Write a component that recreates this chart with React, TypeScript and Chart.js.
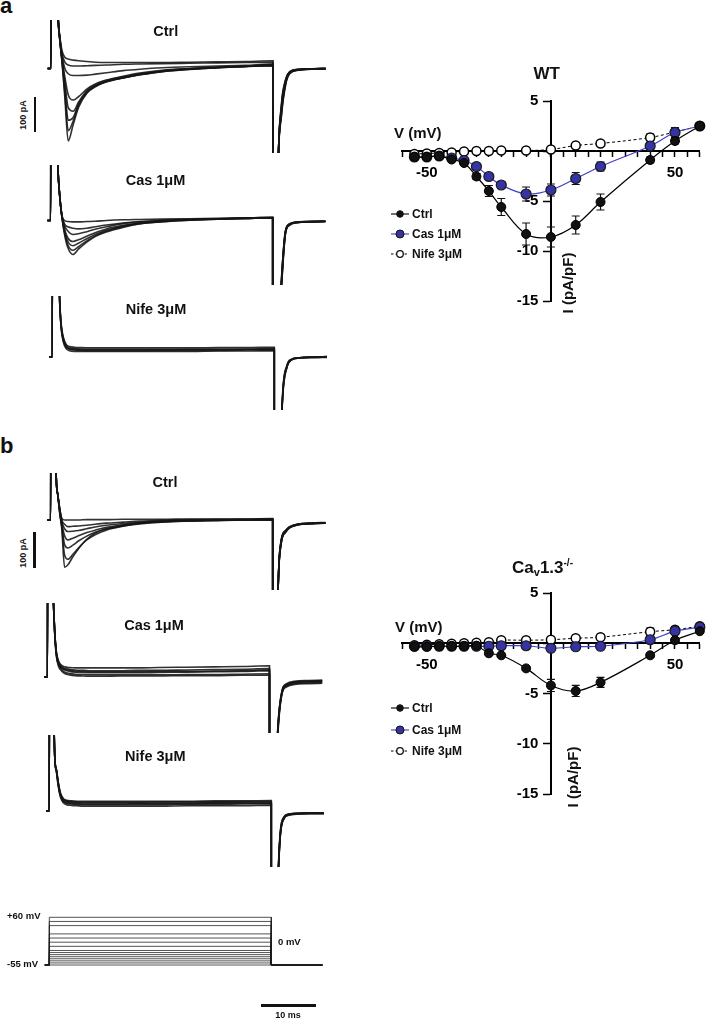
import React, { useEffect, useRef } from "react";
import { Chart, registerables } from "chart.js";
Chart.register(...registerables);

// ---------------- IV curves ----------------
const V_STEPS = [-55, -50, -45, -40, -35, -30, -25, -20, -10, 0, 10, 20, 40, 50, 60];

const WT_CTRL = [-0.6, -0.6, -0.5, -0.85, -1.2, -2.55, -4.0, -5.6, -8.3, -8.6, -7.4, -5.1, -0.9, 1.0, 2.5];
const WT_CTRL_SEM = [0, 0, 0, 0.15, 0.2, 0.3, 0.55, 0.85, 1.1, 1.0, 0.9, 0.8, 0.3, 0.3, 0.2];
const WT_CAS = [-0.6, -0.6, -0.5, -0.7, -0.95, -1.55, -2.55, -3.4, -4.3, -3.9, -2.75, -1.55, 0.5, 1.85, 2.5];
const WT_CAS_SEM = [0, 0, 0, 0, 0.15, 0.2, 0.3, 0.35, 0.7, 0.6, 0.6, 0.45, 0.3, 0.5, 0.3];
const WT_NIFE = [-0.3, -0.25, -0.2, -0.15, -0.05, 0, 0, 0.05, 0.05, 0.15, 0.55, 0.75, 1.35, 1.9, 2.5];
const WT_NIFE_SEM = [0, 0, 0, 0, 0, 0, 0, 0, 0, 0, 0, 0.2, 0.35, 0.4, 0.3];

const KO_CTRL = [-0.35, -0.35, -0.3, -0.3, -0.3, -0.25, -1.0, -1.2, -2.5, -4.2, -4.75, -3.9, -1.2, 0.3, 1.2];
const KO_CTRL_SEM = [0, 0, 0, 0, 0, 0, 0, 0, 0.2, 0.6, 0.55, 0.5, 0.2, 0.2, 0.2];
const KO_CAS = [-0.3, -0.3, -0.3, -0.3, -0.3, -0.3, -0.3, -0.25, -0.25, -0.5, -0.35, -0.3, 0.35, 1.2, 1.6];
const KO_CAS_SEM = [0, 0, 0, 0, 0, 0, 0, 0, 0, 0, 0, 0, 0.2, 0.3, 0.2];
const KO_NIFE = [-0.2, -0.15, -0.1, -0.05, 0, 0.05, 0.1, 0.3, 0.3, 0.35, 0.5, 0.6, 1.15, 1.35, 1.7];
const KO_NIFE_SEM = [0, 0, 0, 0, 0, 0, 0, 0, 0, 0, 0, 0, 0.35, 0.3, 0.2];

const X_TICK_LABELS = [-50, 50];
const Y_TICK_LABELS = [5, -5, -10, -15];

// ---------------- current traces (ms, pA) ----------------
const TIME = [-0.6, 0, 0.05, 1.0, 1.3, 1.6, 2.0, 2.5, 3.1, 4, 5, 6.5, 8, 10, 13, 16, 20, 25, 30, 35, 40, 40.02, 40.9, 41.5, 42.3, 43, 44.5, 47, 49.5];

const A_CTRL = [
  [0, 0, 900, 300, 140, 90, 50, 32, 27, 24, 22, 20, 18, 17, 17, 17, 17, 18, 19, 20, 22, -1500, -300, -105, -30, -9, -2, -1, 0],
  [0, 0, 900, 300, 140, 88, 42, 18, 10, 7, 7, 8, 9, 10, 12, 13, 14, 15, 16, 17, 18, -1500, -300, -110, -32, -10, -3, -1, 0],
  [0, 0, 900, 300, 140, 86, 35, 0, -15, -20, -20, -19, -16, -12, -6, -2, 2, 5, 7, 9, 13, -1500, -300, -115, -34, -10, -3, -2, -1],
  [0, 0, 900, 300, 140, 84, 28, -25, -75, -90, -80, -58, -44, -33, -22, -13, -5, 0, 4, 7, 11, -1500, -300, -120, -36, -11, -3, -1, 0],
  [0, 0, 900, 300, 140, 82, 25, -40, -112, -122, -95, -62, -46, -34, -24, -15, -7, -1, 3, 6, 9, -1500, -300, -125, -38, -12, -4, -1, 0],
  [0, 0, 900, 300, 140, 80, 22, -55, -148, -140, -100, -66, -50, -38, -27, -18, -9, -3, 2, 5, 8, -1500, -300, -130, -40, -13, -4, -2, -1],
  [0, 0, 900, 300, 140, 80, 18, -70, -178, -150, -105, -68, -50, -37, -26, -17, -8, -1, 3, 7, 10, -1500, -300, -135, -42, -14, -5, -1, 0],
  [0, 0, 900, 300, 140, 80, 15, -85, -207, -160, -110, -70, -52, -38, -27, -18, -9, -2, 2, 6, 9, -1500, -300, -140, -45, -15, -5, -2, 0],
];
const A_CAS = [
  [0, 0, 900, 320, 150, 75, 16, 0, -3, -4, -4, -3, -2, 0, 2, 3, 4, 5, 6, 7, 8, -1500, -400, -190, -30, -10, -4, -3, -2],
  [0, 0, 900, 320, 150, 75, 16, -10, -18, -22, -24, -22, -18, -13, -7, -3, 0, 3, 5, 7, 9, -1500, -400, -190, -30, -10, -4, -3, -3],
  [0, 0, 900, 320, 150, 75, 16, -15, -30, -40, -38, -32, -25, -18, -9, -4, 0, 3, 5, 6, 8, -1500, -400, -195, -32, -11, -4, -3, -3],
  [0, 0, 900, 320, 150, 75, 15, -25, -50, -60, -55, -45, -35, -24, -14, -7, -1, 3, 5, 7, 9, -1500, -400, -200, -33, -12, -5, -3, -2],
  [0, 0, 900, 320, 150, 75, 14, -30, -60, -72, -65, -52, -40, -28, -16, -8, -2, 2, 4, 6, 8, -1500, -400, -205, -35, -12, -5, -4, -3],
  [0, 0, 900, 320, 150, 75, 13, -35, -70, -85, -75, -58, -44, -31, -18, -9, -3, 1, 4, 6, 7, -1500, -400, -210, -36, -13, -6, -4, -3],
  [0, 0, 900, 320, 150, 75, 12, -40, -78, -97, -82, -62, -46, -33, -20, -10, -4, 1, 4, 6, 8, -1500, -400, -215, -38, -14, -6, -3, -2],
];
const A_NIFE = [
  [0, 0, 900, 400, 175, 90, 52, 32, 26, 24, 23, 22, 22, 22, 22, 22, 22, 22, 23, 23, 24, -1500, -400, -110, -25, -8, -2, 0, 1],
  [0, 0, 900, 400, 172, 86, 47, 28, 22, 20, 19, 18, 18, 18, 18, 18, 19, 19, 19, 20, 21, -1500, -400, -115, -27, -9, -3, -1, 0],
  [0, 0, 900, 400, 178, 95, 56, 36, 30, 28, 27, 26, 26, 26, 26, 26, 26, 26, 27, 27, 28, -1500, -400, -105, -23, -7, -2, 0, 1],
  [0, 0, 900, 400, 174, 88, 49, 30, 24, 22, 21, 20, 20, 20, 20, 20, 20, 21, 21, 22, 22, -1500, -400, -120, -29, -10, -3, -1, -1],
  [0, 0, 900, 400, 170, 82, 42, 24, 18, 16, 16, 16, 16, 16, 16, 16, 16, 16, 17, 17, 18, -1500, -400, -112, -26, -8, -2, -1, 0],
];
const B_CTRL = [
  [0, 0, 900, 120, 70, 35, 5, 0, 0, 0, 0, 1, 1, 1, 2, 2, 2, 3, 3, 3, 4, -1500, -250, -60, -30, -20, -12, -9, -7],
  [0, 0, 900, 120, 70, 35, 0, -12, -19, -18, -17, -15, -12, -9, -6, -3, -1, 1, 2, 2, 3, -1500, -250, -62, -31, -20, -12, -9, -8],
  [0, 0, 900, 120, 70, 33, -5, -25, -33, -32, -30, -25, -20, -15, -10, -6, -3, -1, 0, 1, 2, -1500, -250, -64, -32, -21, -13, -10, -8],
  [0, 0, 900, 120, 70, 30, -10, -45, -57, -52, -45, -36, -29, -21, -14, -8, -4, -2, 0, 1, 1, -1500, -250, -66, -33, -21, -13, -10, -9],
  [0, 0, 900, 120, 70, 28, -15, -70, -80, -72, -60, -46, -35, -25, -16, -9, -5, -2, -1, 0, 1, -1500, -250, -68, -34, -22, -13, -10, -8],
  [0, 0, 900, 120, 70, 25, -20, -100, -112, -98, -80, -57, -42, -29, -18, -10, -5, -3, -1, 0, 0, -1500, -250, -70, -35, -22, -14, -10, -9],
  [0, 0, 900, 120, 70, 22, -25, -135, -128, -105, -82, -55, -38, -26, -17, -11, -6, -3, -1, 0, 1, -1500, -250, -72, -36, -23, -14, -11, -9],
];
const B_CAS = [
  [0, 0, 900, 250, 130, 70, 42, 30, 25, 22, 20, 19, 18, 18, 18, 19, 19, 20, 21, 22, 24, -1500, -400, -150, -38, -22, -14, -12, -11],
  [0, 0, 900, 250, 128, 66, 38, 26, 20, 16, 14, 13, 12, 12, 12, 12, 13, 14, 15, 16, 18, -1500, -400, -155, -40, -24, -16, -14, -13],
  [0, 0, 900, 250, 130, 68, 40, 28, 22, 19, 17, 16, 15, 15, 15, 15, 16, 16, 17, 18, 20, -1500, -400, -150, -39, -23, -15, -13, -12],
  [0, 0, 900, 250, 126, 62, 34, 22, 14, 10, 8, 7, 6, 6, 6, 6, 6, 7, 7, 8, 9, -1500, -400, -160, -43, -27, -19, -17, -16],
  [0, 0, 900, 250, 132, 72, 46, 34, 29, 27, 26, 26, 26, 26, 26, 26, 27, 28, 29, 30, 32, -1500, -400, -145, -36, -20, -12, -10, -9],
  [0, 0, 900, 250, 124, 60, 30, 18, 10, 6, 4, 3, 2, 2, 3, 3, 3, 4, 4, 5, 5, -1500, -400, -165, -45, -29, -21, -19, -18],
];
const B_NIFE = [
  [0, 0, 900, 150, 115, 80, 48, 32, 27, 25, 24, 23, 23, 23, 23, 23, 23, 23, 24, 24, 25, -1500, -400, -90, -18, -10, -7, -6, -6],
  [0, 0, 900, 150, 112, 76, 44, 28, 22, 20, 19, 18, 18, 18, 18, 18, 18, 19, 19, 20, 20, -1500, -400, -95, -20, -11, -8, -7, -7],
  [0, 0, 900, 150, 118, 84, 52, 36, 31, 29, 28, 28, 28, 28, 28, 28, 28, 28, 29, 29, 30, -1500, -400, -85, -16, -9, -6, -5, -5],
  [0, 0, 900, 150, 110, 72, 40, 24, 18, 16, 15, 14, 14, 14, 14, 14, 14, 15, 15, 15, 16, -1500, -400, -100, -22, -13, -9, -8, -8],
  [0, 0, 900, 150, 116, 82, 50, 34, 29, 27, 26, 25, 25, 25, 25, 25, 26, 26, 26, 27, 27, -1500, -400, -92, -19, -10, -7, -6, -5],
  [0, 0, 900, 150, 114, 78, 46, 30, 24, 22, 21, 20, 20, 20, 20, 21, 21, 21, 22, 22, 22, -1500, -400, -97, -21, -12, -8, -7, -7],
];

// voltage protocol
const HOLD_MV = -55;
const STEP_START = 0;
const STEP_END = 40;
const PROTO_T_START = -0.8;
const PROTO_T_END = 49.2;

// ---------------- layout helpers ----------------
const PX_MS = 5.55;
const PX_PA = 0.35;
const FONT = "'Liberation Sans', Arial, Helvetica, sans-serif";
const CAS_BLUE = "#3434a4";
const CAS_LINE = "#4141c8";

type Cfg = () => any;

function ChartCanvas(props: { left: number; top: number; width: number; height: number; make: Cfg }) {
  const ref = useRef<HTMLCanvasElement | null>(null);
  useEffect(() => {
    const chart = new Chart(ref.current as HTMLCanvasElement, props.make());
    return () => chart.destroy();
  }, []);
  return (
    <canvas
      ref={ref}
      width={props.width}
      height={props.height}
      style={{ position: "absolute", left: props.left, top: props.top, width: props.width, height: props.height }}
    />
  );
}

function baseOptions() {
  return {
    animation: false,
    responsive: false,
    events: [],
    plugins: { legend: { display: false }, tooltip: { enabled: false }, title: { display: false } },
  };
}

function tracePanel(traces: number[][], x0: number, top: number, bottom: number, base: number) {
  const left = Math.round(x0 - 4);
  const width = 282;
  const xMin = (left - x0) / PX_MS;
  const xMax = xMin + width / PX_MS;
  const yMin = -(bottom - base) / PX_PA;
  const yMax = (base - top) / PX_PA;
  const make = () => ({
    type: "line",
    data: {
      datasets: traces.map((tr) => ({
        data: TIME.map((t, i) => ({ x: t, y: tr[i] })),
        borderColor: "rgba(22,22,22,0.88)",
        borderWidth: 1.6,
        pointRadius: 0,
        cubicInterpolationMode: "monotone",
        fill: false,
      })),
    },
    options: {
      ...baseOptions(),
      layout: { padding: 0 },
      scales: {
        x: { type: "linear", display: false, min: xMin, max: xMax },
        y: { type: "linear", display: false, min: yMin, max: yMax },
      },
    },
  });
  return { left, top, width, height: bottom - top, make };
}

const errorBarPlugin = {
  id: "errorBars",
  beforeDatasetsDraw(chart: any) {
    const ctx = chart.ctx;
    const xs = chart.scales.x;
    const ys = chart.scales.y;
    chart.data.datasets.forEach((ds: any) => {
      if (!ds.errs) return;
      ctx.save();
      ctx.strokeStyle = "#111";
      ctx.lineWidth = 1.2;
      ds.data.forEach((p: any, i: number) => {
        const e = ds.errs[i];
        if (!e) return;
        const px = xs.getPixelForValue(p.x);
        const y1 = ys.getPixelForValue(p.y + e);
        const y2 = ys.getPixelForValue(p.y - e);
        ctx.beginPath();
        ctx.moveTo(px, y1);
        ctx.lineTo(px, y2);
        ctx.moveTo(px - 4, y1);
        ctx.lineTo(px + 4, y1);
        ctx.moveTo(px - 4, y2);
        ctx.lineTo(px + 4, y2);
        ctx.stroke();
      });
      ctx.restore();
    });
  },
};

function zeroPad(s: any) {
  s.paddingLeft = 0;
  s.paddingRight = 0;
  s.paddingTop = 0;
  s.paddingBottom = 0;
}

function ivMake(ctrl: number[], ctrlSem: number[], cas: number[], casSem: number[], nife: number[], nifeSem: number[], padTop: number) {
  return () => ({
    type: "line",
    data: {
      datasets: [
        {
          label: "Ctrl",
          data: V_STEPS.map((v, i) => ({ x: v, y: ctrl[i] })),
          errs: ctrlSem,
          borderColor: "#000",
          borderWidth: 1.2,
          pointRadius: 4.5,
          pointBackgroundColor: "#111",
          pointBorderColor: "#000",
          pointBorderWidth: 1,
          tension: 0.35,
          clip: false,
        },
        {
          label: "Cas 1μM",
          data: V_STEPS.map((v, i) => ({ x: v, y: cas[i] })),
          errs: casSem,
          borderColor: CAS_LINE,
          borderWidth: 1.2,
          pointRadius: 5,
          pointBackgroundColor: CAS_BLUE,
          pointBorderColor: "#1a1a1a",
          pointBorderWidth: 1.2,
          tension: 0.35,
          clip: false,
        },
        {
          label: "Nife 3μM",
          data: V_STEPS.map((v, i) => ({ x: v, y: nife[i] })),
          errs: nifeSem,
          borderColor: "#000",
          borderWidth: 1,
          borderDash: [3, 2.5],
          pointRadius: 4.5,
          pointBackgroundColor: "#fff",
          pointBorderColor: "#000",
          pointBorderWidth: 1.5,
          tension: 0.35,
          clip: false,
        },
      ],
    },
    options: {
      ...baseOptions(),
      layout: { padding: { left: 42, right: 4, top: padTop, bottom: 29 } },
      scales: {
        x: {
          type: "linear",
          min: -60,
          max: 60,
          position: { y: 0 },
          afterFit: zeroPad,
          ticks: {
            stepSize: 5,
            autoSkip: false,
            maxRotation: 0,
            padding: 8,
            color: "#000",
            font: { family: FONT, size: 15, weight: "bold" },
            callback: (v: number) => (X_TICK_LABELS.includes(v) ? String(v) : ""),
          },
          grid: { drawOnChartArea: false, drawTicks: true, tickLength: 5, tickColor: "#000", tickWidth: 1.5 },
          border: { display: true, color: "#000", width: 2 },
        },
        y: {
          type: "linear",
          min: -15,
          max: 5,
          position: { x: 0 },
          afterFit: zeroPad,
          ticks: {
            stepSize: 5,
            autoSkip: false,
            padding: 4,
            color: "#000",
            font: { family: FONT, size: 15, weight: "bold" },
            // trailing spaces keep the right-aligned label clear of the tick marks
            callback: (v: number) => (Y_TICK_LABELS.includes(v) ? String(v) + "   " : ""),
          },
          grid: { drawOnChartArea: false, drawTicks: true, tickLength: 7, tickColor: "#000", tickWidth: 1.5 },
          border: { display: true, color: "#000", width: 2 },
        },
      },
    },
    plugins: [errorBarPlugin],
  });
}

function protoMake(x0: number, left: number, width: number, top: number, height: number) {
  const pxMv = (965 - 917.3) / 115;
  const xMin = (left - x0) / PX_MS;
  const xMax = xMin + width / PX_MS;
  const yMin = HOLD_MV - (top + height - 965) / pxMv;
  const yMax = 60 + (917.3 - top) / pxMv;
  return () => ({
    type: "line",
    data: {
      datasets: V_STEPS.map((v) => ({
        data: [
          { x: PROTO_T_START, y: HOLD_MV },
          { x: STEP_START, y: HOLD_MV },
          { x: STEP_START, y: v },
          { x: STEP_END, y: v },
          { x: STEP_END, y: HOLD_MV },
          { x: PROTO_T_END, y: HOLD_MV },
        ],
        borderColor: "rgba(30,30,30,0.85)",
        borderWidth: 0.9,
        pointRadius: 0,
        tension: 0,
        fill: false,
      })),
    },
    options: {
      ...baseOptions(),
      layout: { padding: 0 },
      scales: {
        x: { type: "linear", display: false, min: xMin, max: xMax },
        y: { type: "linear", display: false, min: yMin, max: yMax },
      },
    },
  });
}

function Txt(props: { x: number; y: number; size: number; children: any; anchor?: "c" | "l"; bold?: boolean; rotate?: boolean }) {
  const tr = props.anchor === "l" ? "translate(0,-50%)" : "translate(-50%,-50%)";
  return (
    <div
      style={{
        position: "absolute",
        left: props.x,
        top: props.y,
        transform: tr + (props.rotate ? " rotate(-90deg)" : ""),
        fontFamily: FONT,
        fontWeight: props.bold === false ? "normal" : "bold",
        fontSize: props.size,
        lineHeight: 1,
        whiteSpace: "nowrap",
        color: "#111",
      }}
    >
      {props.children}
    </div>
  );
}

function Legend(props: { y0: number; gap: number }) {
  const items = [
    { label: "Ctrl", kind: 0 },
    { label: "Cas 1μM", kind: 1 },
    { label: "Nife 3μM", kind: 2 },
  ];
  return (
    <>
      {items.map((it, i) => {
        const y = props.y0 + i * props.gap;
        return (
          <React.Fragment key={i}>
            <svg style={{ position: "absolute", left: 390, top: y - 6 }} width={20} height={12}>
              <line
                x1={1}
                y1={6}
                x2={19}
                y2={6}
                stroke={it.kind === 1 ? CAS_LINE : "#000"}
                strokeWidth={1.1}
                strokeDasharray={it.kind === 2 ? "2.5 2" : undefined}
              />
              <circle
                cx={10}
                cy={6}
                r={it.kind === 1 ? 4 : 3.3}
                fill={it.kind === 0 ? "#111" : it.kind === 1 ? CAS_BLUE : "#fff"}
                stroke="#111"
                strokeWidth={it.kind === 2 ? 1.3 : 1}
              />
            </svg>
            <Txt x={412} y={y} size={12} anchor="l">
              {it.label}
            </Txt>
          </React.Fragment>
        );
      })}
    </>
  );
}

export default function App() {
  const panels = [
    tracePanel(A_CTRL, 51, 20, 153, 68.5),
    tracePanel(A_CAS, 50.7, 165, 285, 220.5),
    tracePanel(A_NIFE, 52.3, 296, 410, 357),
    tracePanel(B_CTRL, 50.7, 473, 590, 520),
    tracePanel(B_CAS, 47.5, 603, 733, 677),
    tracePanel(B_NIFE, 49.3, 735, 867, 811),
  ];
  return (
    <div style={{ position: "absolute", left: 0, top: 0, width: 706, height: 1019, background: "#fff", overflow: "hidden" }}>
      {panels.map((p, i) => (
        <ChartCanvas key={i} left={p.left} top={p.top} width={p.width} height={p.height} make={p.make} />
      ))}
      <ChartCanvas left={40} top={905} width={290} height={70} make={protoMake(49.3, 40, 290, 905, 70)} />
      <ChartCanvas left={360} top={60} width={346} height={270} make={ivMake(WT_CTRL, WT_CTRL_SEM, WT_CAS, WT_CAS_SEM, WT_NIFE, WT_NIFE_SEM, 41)} />
      <ChartCanvas left={360} top={553} width={346} height={270} make={ivMake(KO_CTRL, KO_CTRL_SEM, KO_CAS, KO_CAS_SEM, KO_NIFE, KO_NIFE_SEM, 40)} />

      {/* panel letters */}
      <Txt x={0} y={6} size={22} anchor="l">a</Txt>
      <Txt x={0} y={446} size={22} anchor="l">b</Txt>

      {/* trace titles */}
      <Txt x={165.7} y={30.7} size={14.5}>Ctrl</Txt>
      <Txt x={155.5} y={180} size={14.5}>Cas 1μM</Txt>
      <Txt x={156} y={309} size={14.5}>Nife 3μM</Txt>
      <Txt x={165} y={481.7} size={14.5}>Ctrl</Txt>
      <Txt x={154} y={625} size={14.5}>Cas 1μM</Txt>
      <Txt x={155.3} y={755.7} size={14.5}>Nife 3μM</Txt>

      {/* current scale bars */}
      <div style={{ position: "absolute", left: 33.5, top: 97, width: 2.5, height: 34.5, background: "#111" }} />
      <Txt x={22.5} y={115} size={9} rotate>100 pA</Txt>
      <div style={{ position: "absolute", left: 33, top: 532, width: 2.5, height: 35.5, background: "#111" }} />
      <Txt x={23} y={553} size={9} rotate>100 pA</Txt>

      {/* protocol labels */}
      <Txt x={7} y={916} size={9.5} anchor="l">+60 mV</Txt>
      <Txt x={7} y={964} size={9.5} anchor="l">-55 mV</Txt>
      <Txt x={278} y={942} size={9.5} anchor="l">0 mV</Txt>
      <div style={{ position: "absolute", left: 261, top: 1004, width: 55, height: 2.5, background: "#111" }} />
      <Txt x={288} y={1015} size={9}>10 ms</Txt>

      {/* IV annotations WT */}
      <Txt x={546.7} y={73.3} size={17}>WT</Txt>
      <Txt x={394} y={132} size={15} anchor="l">V (mV)</Txt>
      <Txt x={566.5} y={282.5} size={15} rotate>I (pA/pF)</Txt>
      <Legend y0={214} gap={20} />

      {/* IV annotations KO */}
      <Txt x={542.5} y={568} size={17}>
        Ca<sub style={{ fontSize: 11, verticalAlign: "-0.3em" }}>v</sub>1.3<sup style={{ fontSize: 10, verticalAlign: "0.7em" }}>-/-</sup>
      </Txt>
      <Txt x={395} y={626} size={15} anchor="l">V (mV)</Txt>
      <Txt x={572} y={776.7} size={15} rotate>I (pA/pF)</Txt>
      <Legend y0={708.3} gap={21.2} />
    </div>
  );
}
